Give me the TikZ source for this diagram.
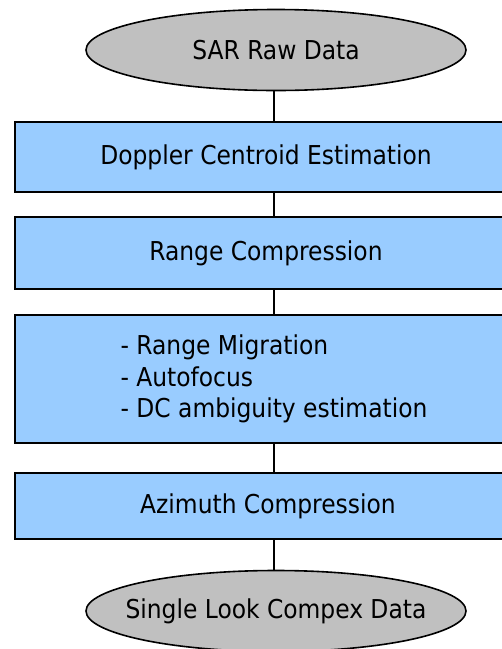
\documentclass[tikz,border=0pt]{standalone}
\usepackage{fontspec}
\setmainfont{DejaVu Sans Condensed}
\usetikzlibrary{shapes.geometric}
\definecolor{boxblue}{HTML}{99CCFF}
\definecolor{ovalgray}{HTML}{C0C0C0}
\begin{document}
\begin{tikzpicture}[x=1pt,y=-1pt,
  txt/.style={font=\fontsize{26}{31.5}\selectfont},
  procbox/.style={draw=black, line width=1.6pt, fill=boxblue, rectangle,
    minimum width=502pt, inner sep=0pt, txt},
  terminal/.style={draw=black, line width=1.6pt, fill=ovalgray, ellipse,
    minimum width=380pt, minimum height=81pt, inner sep=0pt, txt},
  link/.style={draw=black, line width=1.6pt}]
\useasboundingbox (0,0) rectangle (502,649);
\clip (0,0) rectangle (502,649);
\node[terminal] (start) at (276,50) {SAR Raw Data};
\node[procbox, minimum height=70pt] (dce) at (266,157) {Doppler Centroid Estimation};
\node[procbox, minimum height=72pt] (rc) at (266,253) {Range Compression};
\node[procbox, minimum width=518pt, minimum height=128pt, align=left] (rm) at (274,379) {- Range Migration\\- Autofocus\\- DC ambiguity estimation};
\node[procbox, minimum width=506pt, minimum height=66pt] (ac) at (268,506) {Azimuth Compression};
\node[terminal, inner xsep=-20pt] (stop) at (276,611) {Single Look Compex Data};
\draw[link] ([xshift=8pt]dce.north) -- ([xshift=8pt]dce.north |- start.south);
\draw[link] ([xshift=8pt]dce.south) -- ([xshift=8pt]dce.south |- rc.north);
\draw[link] ([xshift=8pt]rc.south) -- (rm.north);
\draw[link] (rm.south) -- (rm.south |- ac.north);
\draw[link] ([xshift=6pt]ac.south) -- ([xshift=6pt]ac.south |- stop.north);
\end{tikzpicture}
\end{document}
